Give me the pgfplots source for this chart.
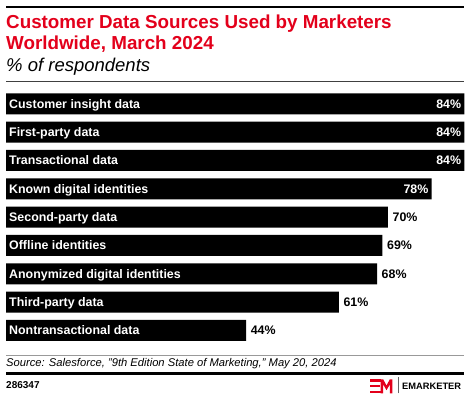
\documentclass[border=0pt]{standalone}
\usepackage{pgfplots}
\pgfplotsset{compat=1.18}
\usepackage{pgfplotstable}
\usepackage{fontspec}
\setmainfont{Liberation Sans}
\definecolor{emred}{HTML}{E3001B}

\pgfplotstableread{
idx val label
0 84 {Customer insight data}
1 84 {First-party data}
2 84 {Transactional data}
3 78 {Known digital identities}
4 70 {Second-party data}
5 69 {Offline identities}
6 68 {Anonymized digital identities}
7 61 {Third-party data}
8 44 {Nontransactional data}
}\alldata

\pgfplotstableread{
idx val
0 84
1 84
2 84
3 78
}\insidedata

\pgfplotstableread{
idx val
4 70
5 69
6 68
7 61
8 44
}\outsidedata

\newcommand{\labfont}{\fontsize{12.4}{14}\selectfont\bfseries}

\begin{document}
\begin{tikzpicture}[x=1pt,y=1pt]
\useasboundingbox (0,0) rectangle (470,399);
\draw[line width=2.5pt] (6,392) -- (464,392);
\node[anchor=base west, inner sep=0pt, text=emred, font=\fontsize{18.8}{21}\selectfont\bfseries] at (6,370.5) {Customer Data Sources Used by Marketers};
\node[anchor=base west, inner sep=0pt, text=emred, font=\fontsize{18.8}{21}\selectfont\bfseries] at (6,349) {Worldwide, March 2024};
\node[anchor=base west, inner sep=0pt, font=\fontsize{18.5}{20}\selectfont\itshape] at (6,327) {\% of respondents};
\draw[line width=0.8pt, color=black!75] (6,318) -- (464,318);

\begin{axis}[
  at={(6pt,54.4pt)}, anchor=south west,
  scale only axis, width=458.3pt, height=255pt,
  xmin=0, xmax=84, ymin=-0.5, ymax=8.5, y dir=reverse,
  axis lines=none, xbar, bar width=21pt, bar shift=0pt, clip=false,
  /pgf/number format/assume math mode=true,
]
\addplot[fill=black, draw=none,
  nodes near coords={\pgfmathprintnumber{\pgfplotspointmeta}\%}, point meta=x,
  nodes near coords style={anchor=base east, text=white, inner sep=0pt, xshift=-3pt, yshift=-4.3pt, font=\labfont}]
  table[x=val, y=idx] {\insidedata};
\addplot[fill=black, draw=none,
  nodes near coords={\pgfmathprintnumber{\pgfplotspointmeta}\%}, point meta=x,
  nodes near coords style={anchor=base west, text=black, inner sep=0pt, xshift=4.5pt, yshift=-4.3pt, font=\labfont}]
  table[x=val, y=idx] {\outsidedata};
\addplot[draw=none, sharp plot, mark=none,
  nodes near coords, point meta=explicit symbolic,
  nodes near coords style={anchor=base west, text=white, inner sep=0pt, xshift=3pt, yshift=-4.3pt, font=\labfont}]
  table[x expr=0, y=idx, meta=label] {\alldata};
\end{axis}

\draw[line width=0.8pt, color=black!40] (6,44) -- (464,44);
\node[anchor=base west, inner sep=0pt, font=\fontsize{11.2}{13}\selectfont\itshape] at (6,32.5) {Source: Salesforce, "9th Edition State of Marketing," May 20, 2024};
\draw[line width=3pt] (6,25.5) -- (464,25.5);
\node[anchor=west, inner sep=0pt, font=\fontsize{10}{12}\selectfont\bfseries] at (6,13.5) {286347};
% logo
\fill[emred] (370,17) rectangle (380.7,19.7);
\fill[emred] (370,11.7) rectangle (380,13.7);
\fill[emred] (370,5.7) rectangle (380.7,8.3);
\fill[emred] (380.7,5.7) -- (380.7,19.7) -- (383.2,19.7) -- (386.5,13.5) -- (389.8,19.7) -- (392.3,19.7) -- (392.3,5.7) -- (389.8,5.7) -- (389.8,14.5) -- (386.5,8.8) -- (383.2,14.5) -- (383.2,5.7) -- cycle;
\draw[line width=0.6pt, color=black!60] (398.5,5.7) -- (398.5,22.5);
\node[anchor=west, inner sep=0pt, font=\fontsize{9.3}{11}\selectfont\bfseries] at (402,12.7) {EMARKETER};
\end{tikzpicture}
\end{document}
